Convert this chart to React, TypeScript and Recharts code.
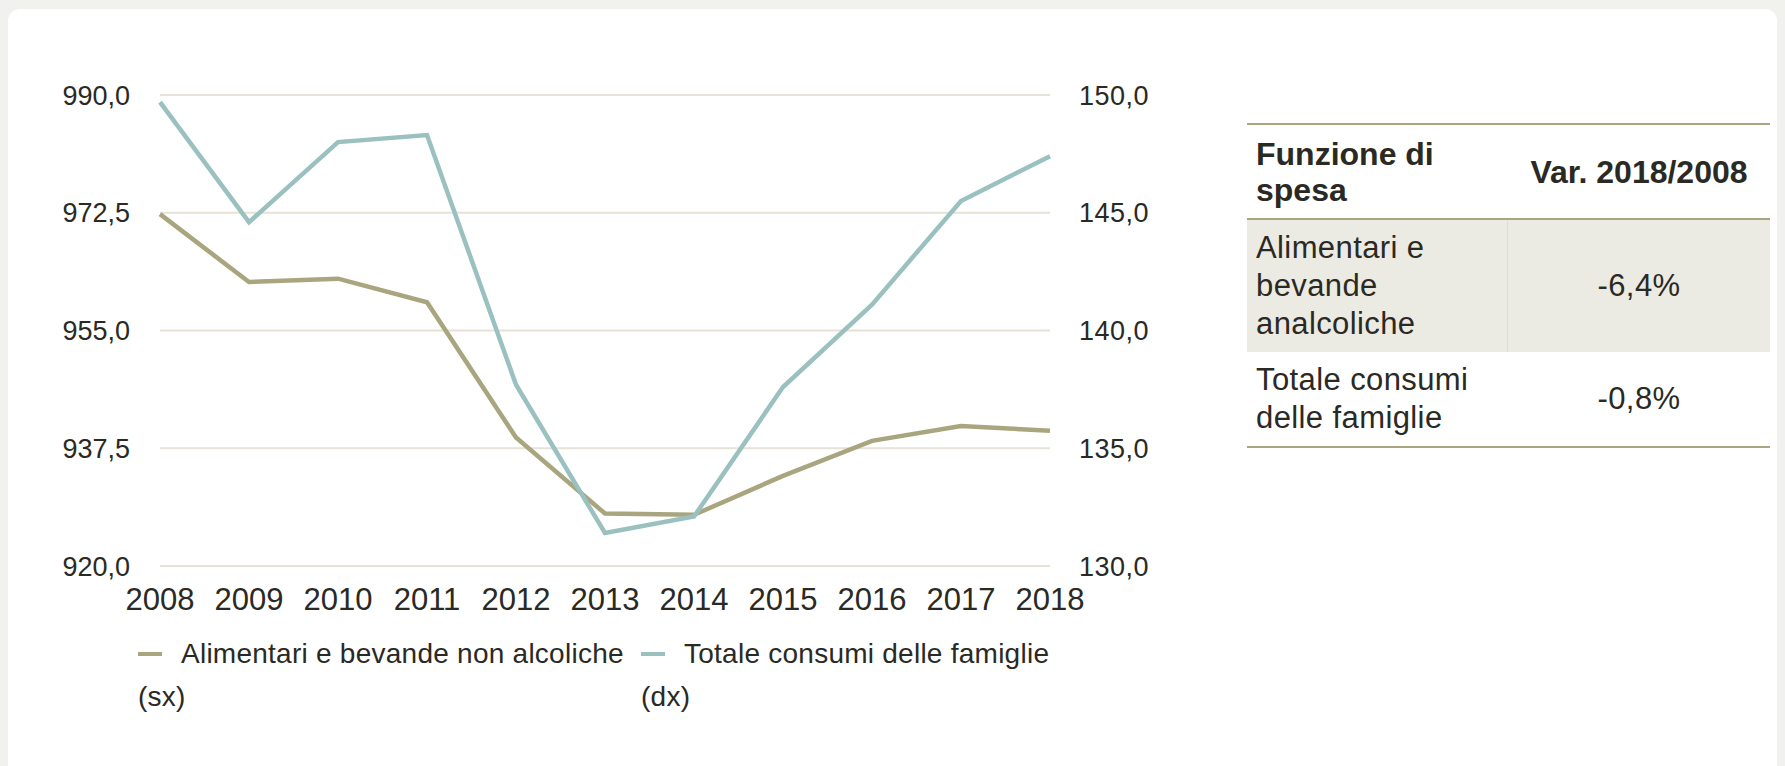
import { LineChart, Line, XAxis, YAxis, CartesianGrid, Legend } from 'recharts';

const years = ['2008', '2009', '2010', '2011', '2012', '2013', '2014', '2015', '2016', '2017', '2018'];
const alimentari = [972.3, 962.2, 962.7, 959.2, 939.1, 927.8, 927.6, 933.4, 938.6, 940.8, 940.1];
const totale = [149.7, 144.6, 148.0, 148.3, 137.7, 131.4, 132.1, 137.6, 141.1, 145.5, 147.4];
const leftTicks = [920, 937.5, 955, 972.5, 990];
const rightTicks = [130, 135, 140, 145, 150];

const seriesNames = ['Alimentari e bevande non alcoliche (sx)', 'Totale consumi delle famiglie (dx)'];
const tableHeader = ['Funzione di spesa', 'Var. 2018/2008'];
const tableLabels = ['Alimentari e bevande analcoliche', 'Totale consumi delle famiglie'];
const tableValues = ['-6,4%', '-0,8%'];

const OLIVE = '#a9a57e';
const TEAL = '#9bc0c0';
const TEXT = '#2a2924';
const FONT = '"Liberation Sans", Arial, sans-serif';

const data = years.map((year, i) => ({ year, alimentari: alimentari[i], totale: totale[i] }));

const fmt = (v: number) => v.toFixed(1).replace('.', ',');

function LegendBox() {
  const items = [
    { name: seriesNames[0], color: OLIVE, left: 0, width: 505 },
    { name: seriesNames[1], color: TEAL, left: 503, width: 425 },
  ];
  return (
    <div style={{ position: 'relative', height: 90, fontFamily: FONT, fontSize: 28, letterSpacing: 0.25, color: TEXT, lineHeight: '43px' }}>
      {items.map((it) => (
        <div key={it.name} style={{ position: 'absolute', left: it.left, top: 0, width: it.width, textAlign: 'left' }}>
          <span
            style={{
              display: 'inline-block',
              width: 24,
              height: 4,
              background: it.color,
              verticalAlign: 'middle',
              marginRight: 19,
              marginBottom: 4,
            }}
          />
          {it.name}
        </div>
      ))}
    </div>
  );
}

function SideTable() {
  const border = `2px solid ${OLIVE}`;
  const cell = { boxSizing: 'border-box' as const, padding: '0 9px', display: 'flex', alignItems: 'center' };
  return (
    <div
      style={{
        position: 'absolute',
        left: 1247,
        top: 123,
        width: 523,
        fontFamily: FONT,
        color: TEXT,
        borderTop: border,
        borderBottom: border,
      }}
    >
      <div style={{ display: 'flex', height: 93, borderBottom: border, fontWeight: 'bold', fontSize: 32, lineHeight: '36px' }}>
        <div style={{ ...cell, width: 261 }}>{tableHeader[0]}</div>
        <div style={{ ...cell, width: 262, justifyContent: 'center' }}>{tableHeader[1]}</div>
      </div>
      {tableLabels.map((label, i) => (
        <div
          key={label}
          style={{
            display: 'flex',
            height: i === 0 ? 132 : 94,
            background: i === 0 ? '#ecebe3' : '#ffffff',
            fontSize: 31,
            letterSpacing: 0.4,
            lineHeight: '38px',
          }}
        >
          <div style={{ ...cell, width: 261, borderRight: i === 0 ? '1px solid #dedcd1' : '1px solid transparent' }}>{label}</div>
          <div style={{ ...cell, width: 262, justifyContent: 'center' }}>{tableValues[i]}</div>
        </div>
      ))}
    </div>
  );
}

export default function App() {
  return (
    <div style={{ position: 'relative', width: 1785, height: 766, background: '#f1f1ee', overflow: 'hidden' }}>
      <style>{'body{margin:0}'}</style>
      <div style={{ position: 'absolute', left: 8, top: 9, width: 1769, height: 800, background: '#ffffff', borderRadius: 12 }} />
      <div style={{ position: 'absolute', left: 0, top: 0 }}>
        <LineChart width={1785} height={766} data={data} margin={{ top: 95, right: 675, left: 100, bottom: 160 }}>
          <CartesianGrid yAxisId="left" vertical={false} stroke="#e6e2d7" strokeWidth={2} />
          <XAxis
            dataKey="year"
            axisLine={false}
            tickLine={false}
            tickSize={0}
            tickMargin={22}
            height={40}
            interval={0}
            tick={{ fill: TEXT, fontSize: 31, fontFamily: FONT }}
          />
          <YAxis
            yAxisId="left"
            orientation="left"
            domain={[920, 990]}
            ticks={leftTicks}
            tickFormatter={fmt}
            axisLine={false}
            tickLine={false}
            tickSize={0}
            tickMargin={30}
            width={60}
            tick={{ fill: TEXT, fontSize: 27, fontFamily: FONT }}
          />
          <YAxis
            yAxisId="right"
            orientation="right"
            domain={[130, 150]}
            ticks={rightTicks}
            tickFormatter={fmt}
            axisLine={false}
            tickLine={false}
            tickSize={0}
            tickMargin={29}
            width={60}
            tick={{ fill: TEXT, fontSize: 27, fontFamily: FONT, letterSpacing: 0.5 }}
          />
          <Legend
            layout="horizontal"
            verticalAlign="middle"
            content={() => <LegendBox />}
            wrapperStyle={{ position: 'absolute', left: 138, top: 632, width: 940 }}
          />
          <Line
            yAxisId="left"
            type="linear"
            dataKey="alimentari"
            name={seriesNames[0]}
            stroke={OLIVE}
            strokeWidth={4.5}
            dot={false}
            activeDot={false}
            isAnimationActive={false}
          />
          <Line
            yAxisId="right"
            type="linear"
            dataKey="totale"
            name={seriesNames[1]}
            stroke={TEAL}
            strokeWidth={4.5}
            dot={false}
            activeDot={false}
            isAnimationActive={false}
          />
        </LineChart>
      </div>
      <SideTable />
    </div>
  );
}
